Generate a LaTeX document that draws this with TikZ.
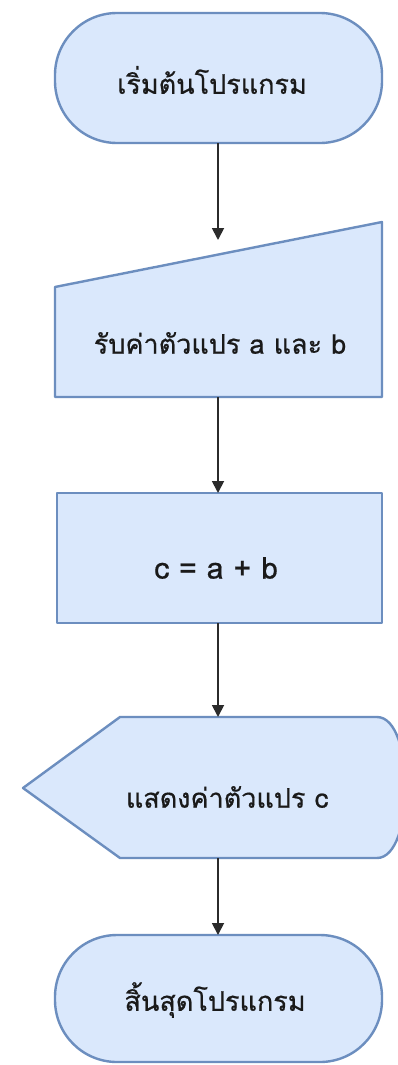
\documentclass[tikz,border=0pt]{standalone}
\usepackage{fontspec}
\newfontfamily\thaifont[Script=Thai,FakeBold=0.6]{Loma}
\usetikzlibrary{arrows.meta}
\definecolor{boxfill}{HTML}{DAE8FC}
\definecolor{boxline}{HTML}{6C8EBF}
\definecolor{arrowcol}{HTML}{2B2B2B}
\definecolor{textcol}{HTML}{1A1A1A}
\tikzset{
  shapebox/.style={fill=boxfill, draw=boxline, line width=2.4pt, line join=round},
  label/.style={inner sep=0pt, font=\thaifont\fontsize{27}{30}\selectfont, text=textcol},
  biglabel/.style={label, font=\thaifont\fontsize{30}{34}\selectfont},
  flow/.style={draw=arrowcol, line width=1.8pt, -{Triangle[length=12pt,width=12pt]}}
}
\begin{document}
\begin{tikzpicture}[x=1pt,y=-1pt]
\useasboundingbox[fill=white] (0,0) rectangle (398,1065);
% start terminator
\draw[shapebox, rounded corners=62pt] (55,13) rectangle (382,143);
\node[label] (start) at (212,80) {เริ่มต้นโปรแกรม};
\coordinate (startb) at (218,143);
% manual input
\draw[shapebox] (55,287) -- (382,222) -- (382,397) -- (55,397) -- cycle;
\node[label] (input) at (220,343) {รับค่าตัวแปร a และ b};
\coordinate (inputt) at (218,240);
\coordinate (inputb) at (218,397);
% process
\draw[shapebox] (57,493) rectangle (382,623);
\node[biglabel] (proc) at (216,568) {c = a + b};
\coordinate (proct) at (218,493);
\coordinate (procb) at (218,623);
% display
\draw[shapebox] (23,788) -- (120,717) -- (377,717)
  .. controls (415,717) and (415,858) .. (377,858) -- (120,858) -- cycle;
\node[label] (disp) at (227,797) {แสดงค่าตัวแปร c};
\coordinate (dispt) at (218,717);
\coordinate (dispb) at (218,858);
% end terminator
\draw[shapebox, rounded corners=62pt] (55,935) rectangle (382,1062);
\node[label] (stop) at (215,1000) {สิ้นสุดโปรแกรม};
\coordinate (stopt) at (218,935);
% connectors
\draw[flow] (startb) -- (inputt);
\draw[flow] (inputb) -- (proct);
\draw[flow] (procb) -- (dispt);
\draw[flow] (dispb) -- (stopt);
\end{tikzpicture}
\end{document}
